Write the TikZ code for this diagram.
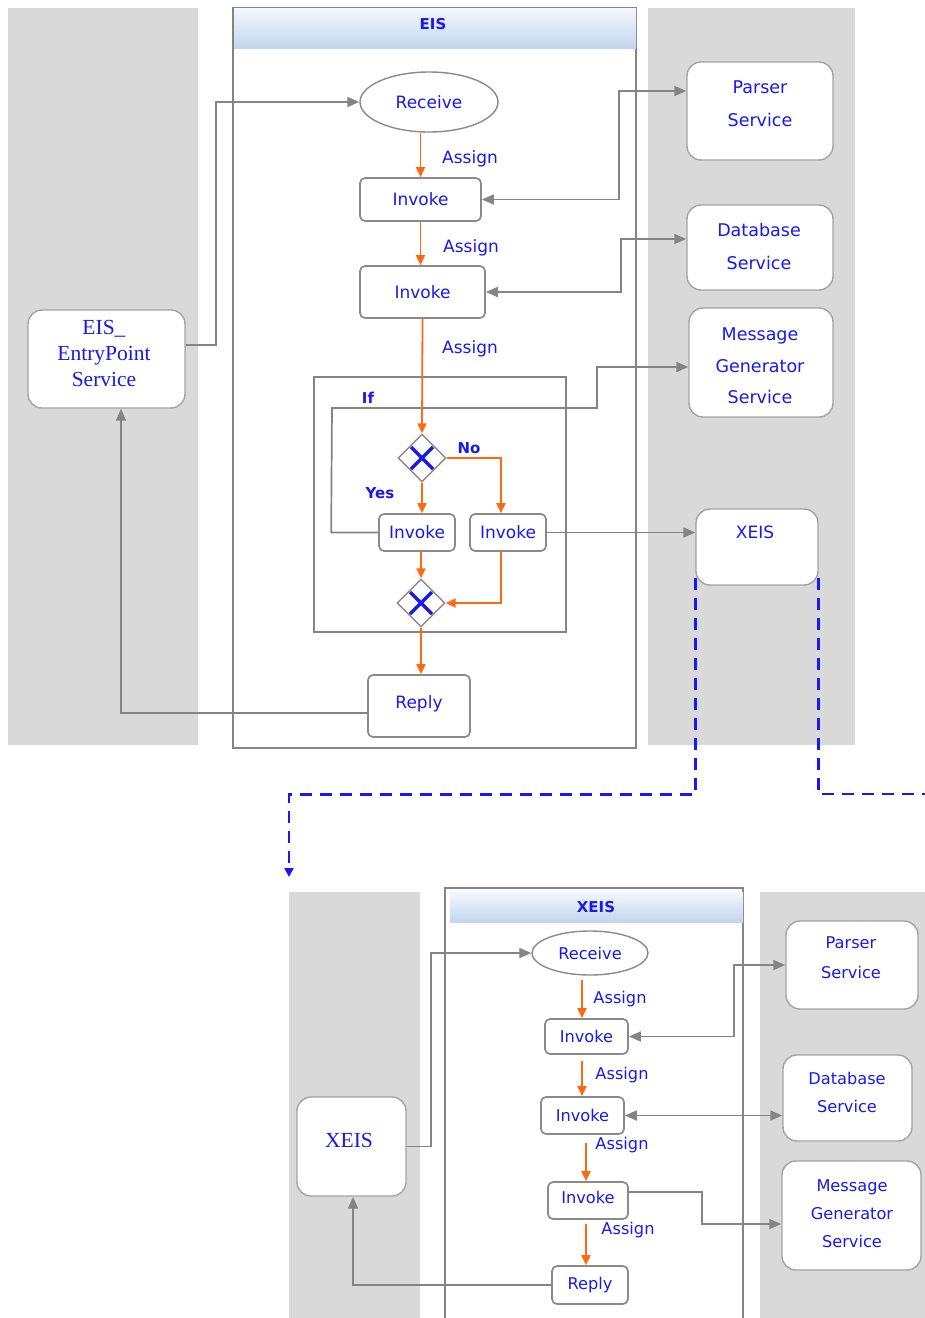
\documentclass[tikz,border=0pt]{standalone}
\usepackage{fontspec}
\setmainfont{DejaVu Sans}
\newfontfamily\svcserif{Liberation Serif}
\usetikzlibrary{shapes.geometric,arrows.meta}
\definecolor{lanegray}{HTML}{D9D9D9}
\definecolor{edgegray}{HTML}{848484}
\definecolor{boxgray}{HTML}{8A8A8A}
\definecolor{flowc}{HTML}{FF6A10}
\definecolor{ink}{HTML}{1818F0}
\definecolor{hdrtop}{HTML}{F4F7FC}
\definecolor{hdrbot}{HTML}{C2D6EF}
\tikzset{
  lanebg/.style={fill=lanegray, draw=none},
  poolframe/.style={draw=edgegray, line width=1.5pt},
  hdrband/.style={top color=hdrtop, bottom color=hdrbot, draw=none},
  hdrtext/.style={text=ink, font=\bfseries\fontsize{15}{18}\selectfont, inner sep=0pt},
  act/.style={draw=boxgray, line width=1.7pt, rounded corners=5pt, fill=white,
    text=ink, inner sep=0pt},
  evt/.style={ellipse, draw=boxgray, line width=1.4pt, fill=white, text=ink, inner sep=0pt},
  svc/.style={draw=edgegray!75, line width=1.4pt, rounded corners=14pt, fill=white},
  svctext/.style={text=ink, align=center, inner sep=0pt},
  gate/.style={diamond, draw=boxgray, line width=1.4pt, fill=white,
    minimum width=48pt, minimum height=48pt, inner sep=0pt},
  xmark/.style={draw=ink, line width=3.4pt},
  flow/.style={draw=flowc, line width=1.8pt, -{Triangle[length=10pt,width=9pt]}},
  msg/.style={draw=edgegray, line width=1.7pt, -{Triangle[length=12pt,width=10pt]}},
  msgboth/.style={msg, {Triangle[length=12pt,width=10pt]}-{Triangle[length=12pt,width=10pt]}},
  lbl/.style={text=ink, inner sep=0pt},
  tag/.style={text=ink, font=\bfseries\fontsize{15}{18}\selectfont, inner sep=0pt},
  handoff/.style={draw=ink, line width=2.8pt, dash pattern=on 12pt off 8pt},
  bigui/.style={font=\fontsize{17}{20}\selectfont},
  smallui/.style={font=\fontsize{16.2}{19}\selectfont},
}
\begin{document}
\begin{tikzpicture}[x=1pt,y=-1pt]
\useasboundingbox (0,0) rectangle (925,1318);

% ---------------- upper process: EIS ----------------
\fill[lanebg] (8,8) rectangle (198,745);
\fill[lanebg] (648,8) rectangle (855,745);
\filldraw[poolframe, fill=white] (233,8) rectangle (636,748);
\fill[hdrband] (234,8) rectangle (636,48);
\node[hdrtext] (eishdr) at (433,24) {EIS};
\draw[poolframe] (314,377) rectangle (566,632);
\node[tag] (iftag) at (368,398) {If};

% participants
\node[svc, minimum width=157pt, minimum height=98pt] (ep) at (106.5,359) {};
\node[svctext, font=\svcserif\fontsize{21.5}{26}\selectfont] (eptxt) at (104,353)
      {EIS\_\\EntryPoint\\Service};
\node[svc, minimum width=146pt, minimum height=98pt] (ps) at (760,111) {};
\node[svctext, font=\fontsize{17.5}{33}\selectfont] (pstxt) at (760,103.5) {Parser\\Service};
\node[svc, minimum width=146pt, minimum height=85pt] (db) at (760,247.5) {};
\node[svctext, font=\fontsize{17.5}{33}\selectfont] (dbtxt) at (759,246.5) {Database\\Service};
\node[svc, minimum width=144pt, minimum height=109pt] (mg) at (761,362.5) {};
\node[svctext, font=\fontsize{17.5}{31.5}\selectfont] (mgtxt) at (760,366)
      {Message\\Generator\\Service};
\node[svc, minimum width=122pt, minimum height=76pt] (xeis) at (757,547) {};
\node[lbl, bigui] (xeistxt) at (755,532) {XEIS};

% activities
\node[evt, bigui, minimum width=138pt, minimum height=60pt] (rcv) at (429,102) {Receive};
\node[act, bigui, minimum width=121pt, minimum height=43pt] (inv1) at (420.5,199.5) {Invoke};
\node[act, bigui, minimum width=125pt, minimum height=52pt] (inv2) at (422.5,292) {Invoke};
\node[gate] (g1) at (422,458) {};
\node[gate] (g2) at (421,603) {};
\node[act, bigui, minimum width=76pt, minimum height=37pt] (invy) at (417,532.5) {Invoke};
\node[act, bigui, minimum width=76pt, minimum height=37pt] (invn) at (508,532.5) {Invoke};
\node[act, bigui, minimum width=102pt, minimum height=62pt, text depth=8pt] (rep) at (419,706) {Reply};
\foreach \g in {g1,g2}{
  \draw[xmark] ([shift={(-11pt,-11pt)}]\g.center) -- ([shift={(11pt,11pt)}]\g.center);
  \draw[xmark] ([shift={(-11pt,11pt)}]\g.center) -- ([shift={(11pt,-11pt)}]\g.center);
}

\node[lbl, bigui] (as1) at (470,159) {Assign};
\node[lbl, bigui] (as2) at (471,248) {Assign};
\node[lbl, bigui] (as3) at (470,349) {Assign};
\node[tag] (no) at (469,448) {No};
\node[tag] (yes) at (380,493) {Yes};

% sequence flow
\draw[flow] (inv1.north |- rcv.south) -- (inv1.north);
\draw[flow] (inv1.south) -- (inv1.south |- inv2.north);
\draw[flow] (inv2.south) -- (g1.north);
\draw[flow] (g1.south) -- (g1.south |- invy.north);
\draw[flow] (g1.east) -| ([xshift=-7pt]invn.north);
\draw[flow] (invy.south -| g2.north) -- (g2.north);
\draw[flow] ([xshift=-7pt]invn.south) |- (g2.east);
\draw[flow] (g2.south) -- (g2.south |- rep.north);

% message flow
\draw[msg] ([yshift=14pt]ep.east) -- ++(30,0) |- (rcv.west);
\draw[msgboth] (inv1.east) -- ++(137,0) |- ([yshift=20pt]ps.west);
\draw[msgboth] (inv2.east) -- ++(135,0) |- ([yshift=8.5pt]db.west);
\draw[msg] (invy.west) -- ++(-47,0) -- (332,408) -- (597,408) -- (597,367)
      -- ([yshift=-4.5pt]mg.west);
\draw[msg] (invn.east) -- (invn.east -| xeis.west);
\draw[msg] ([yshift=-7pt]rep.west) -| ([xshift=14.5pt]ep.south);

% hand-off to the XEIS process
\coordinate (drop) at (289,877);
\coordinate (offpage) at (925,794);
\draw[handoff, -{Triangle[length=9pt,width=9pt]}]
      ([yshift=8pt]xeis.south west) -- ++(0,217) -| (drop);
\draw[handoff] ([yshift=8pt]xeis.south east) |- (offpage);

% ---------------- lower process: XEIS ----------------
\fill[lanebg] (289,892) rectangle (420,1318);
\fill[lanebg] (760,892) rectangle (925,1318);
\fill[white] (445,888) rectangle (743,1318);
\draw[poolframe] (445,1318) -- (445,888) -- (743,888) -- (743,1318);
\fill[hdrband] (450,892) rectangle (743,922);
\node[hdrtext] (xhdr) at (596,907) {XEIS};

\node[svc, minimum width=109pt, minimum height=99pt] (xl) at (351.5,1146.5) {};
\node[svctext, font=\svcserif\fontsize{21.5}{24}\selectfont] (xltxt) at (349,1140) {XEIS};
\node[svc, minimum width=132pt, minimum height=88pt] (ps2) at (852,965) {};
\node[svctext, font=\fontsize{16.2}{30}\selectfont] (ps2txt) at (851,958) {Parser\\Service};
\node[svc, minimum width=129pt, minimum height=86pt] (db2) at (847.5,1098) {};
\node[svctext, font=\fontsize{16.2}{28}\selectfont] (db2txt) at (847,1092) {Database\\Service};
\node[svc, minimum width=139pt, minimum height=109pt] (mg2) at (851.5,1215.5) {};
\node[svctext, font=\fontsize{16.2}{28}\selectfont] (mg2txt) at (852,1214)
      {Message\\Generator\\Service};

\node[evt, smallui, minimum width=116pt, minimum height=44pt] (r2) at (590,953) {Receive};
\node[act, smallui, minimum width=83pt, minimum height=35pt] (i1b) at (586.5,1036.5) {Invoke};
\node[act, smallui, minimum width=83pt, minimum height=37pt] (i2b) at (582.5,1115.5) {Invoke};
\node[act, smallui, minimum width=80pt, minimum height=37pt, text depth=7pt] (i3b) at (588,1200.5) {Invoke};
\node[act, smallui, minimum width=76pt, minimum height=38pt] (rep2) at (590,1285) {Reply};

\node[lbl, smallui] (bs1) at (620,999) {Assign};
\node[lbl, smallui] (bs2) at (622,1075) {Assign};
\node[lbl, smallui] (bs3) at (622,1145) {Assign};
\node[lbl, smallui] (bs4) at (628,1230) {Assign};

\draw[flow, shorten <=4pt] ([xshift=-4.5pt]i1b.north |- r2.south) -- ([xshift=-4.5pt]i1b.north);
\draw[flow, shorten <=6pt] ([xshift=-4.5pt]i1b.south) -- ([xshift=-4.5pt]i1b.south |- i2b.north);
\draw[flow, shorten <=8pt] ([xshift=3.5pt]i2b.south) -- ([xshift=3.5pt]i2b.south |- i3b.north);
\draw[flow, shorten <=4pt] ([xshift=-2pt]i3b.south) -- ([xshift=-2pt]i3b.south |- rep2.north);

\draw[msg] (xl.east) -- ++(24,0) |- (r2.west);
\draw[msgboth] (i1b.east) -- ++(105,0) |- (ps2.west);
\draw[msgboth] (i2b.east) -- (i2b.east -| db2.west);
\draw[msg] ([yshift=8.5pt]i3b.east) -- ++(73,0) |- ([yshift=-8.5pt]mg2.west);
\draw[msg] (rep2.west) -| ([xshift=1.5pt]xl.south);
\end{tikzpicture}
\end{document}
